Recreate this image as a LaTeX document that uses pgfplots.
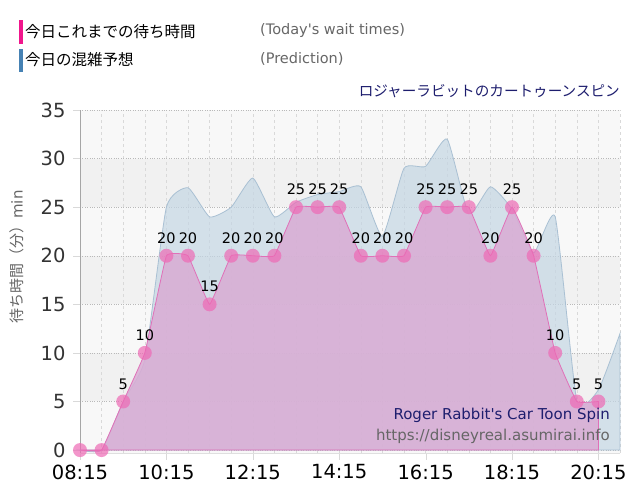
\documentclass[border=0pt]{standalone}
\usepackage{fontspec}
\setmainfont{DejaVu Sans}[Ligatures=TeXOff]
\newfontfamily\cjk{Noto Sans CJK JP}
\usepackage{pgfplots}
\usepackage{pgfplotstable}
\pgfplotsset{compat=1.18}
\definecolor{bgA}{HTML}{F8F8F8}
\definecolor{bgB}{HTML}{F1F1F1}
\definecolor{blueline}{HTML}{A9C0D3}
\definecolor{bluefill}{HTML}{C4D6E4}
\definecolor{pinkline}{HTML}{E070B8}
\definecolor{pinkfill}{HTML}{D9ACD4}
\definecolor{pinkmark}{HTML}{EE6AB5}
\definecolor{pinkbar}{HTML}{F0168C}
\definecolor{bluebar}{HTML}{4682B4}
\definecolor{navytxt}{HTML}{1E1E6E}
\definecolor{graytxt}{HTML}{666666}
\definecolor{ticktxt}{HTML}{333333}

\pgfplotstableread{
t v
8.25 0
8.75 0
9.25 5
9.75 9.3
10.25 25
10.75 27
11.25 24
11.75 25
12.25 28
12.75 24
13.25 25.5
13.75 26.3
14.25 26.6
14.75 27.1
15.25 22
15.75 29
16.25 29.2
16.75 32
17.25 24.3
17.75 27.1
18.25 24.8
18.75 20.3
19.25 24
19.75 5.1
20.25 6.2
20.75 12
}\predtable

\pgfplotstableread{
t v l
8.25 0 {}
8.75 0 {}
9.25 5 5
9.75 10 10
10.25 20 20
10.75 20 20
11.25 15 15
11.75 20 20
12.25 20 20
12.75 20 20
13.25 25 25
13.75 25 25
14.25 25 25
14.75 20 20
15.25 20 20
15.75 20 20
16.25 25 25
16.75 25 25
17.25 25 25
17.75 20 20
18.25 25 25
18.75 20 20
19.25 10 10
19.75 5 5
20.25 5 5
}\todaytable

\begin{document}
\begin{tikzpicture}
\begin{axis}[
  at={(0pt,0pt)}, anchor=south west,
  scale only axis, width=540pt, height=343pt,
  xmin=8.25, xmax=20.75, ymin=-0.3, ymax=35,
  set layers,
  axis background/.style={fill=bgA},
  axis lines*=left,
  x axis line style={draw=gray!25},
  y axis line style={draw=gray!70},
  xtick={8.25,10.25,12.25,14.25,16.25,18.25,20.25},
  xticklabels={08:15,10:15,12:15,14:15,16:15,18:15,20:15},
  minor xtick={8.75,9.25,9.75,10.75,11.25,11.75,12.75,13.25,13.75,14.75,15.25,15.75,16.75,17.25,17.75,18.75,19.25,19.75,20.75},
  ytick={0,5,10,15,20,25,30,35},
  xmajorgrids, xminorgrids, ymajorgrids,
  x grid style={dashed, draw=gray!30},
  y grid style={dotted, draw=gray!55},
  minor tick length=0pt,
  major tick length=7pt,
  tick align=outside,
  tick style={draw=gray!30},
  /pgf/number format/assume math mode=true,
  xticklabel style={font=\fontsize{19.5}{20}\selectfont, text=black, yshift=-1pt},
  yticklabel style={font=\fontsize{19.5}{20}\selectfont, text=ticktxt, xshift=-4pt},
  clip=false,
]
\addplot[fill=bgB, draw=none, on layer=axis background] coordinates {(8.25,5) (20.75,5) (20.75,10) (8.25,10)} -- cycle;
\addplot[fill=bgB, draw=none, on layer=axis background] coordinates {(8.25,15) (20.75,15) (20.75,20) (8.25,20)} -- cycle;
\addplot[fill=bgB, draw=none, on layer=axis background] coordinates {(8.25,25) (20.75,25) (20.75,30) (8.25,30)} -- cycle;
\addplot[draw=blueline, line width=0.8pt, fill=bluefill, fill opacity=0.7, smooth, tension=0.3] table[x=t,y=v] {\predtable} \closedcycle;
\addplot[draw=pinkline, line width=0.8pt, fill=pinkfill, fill opacity=0.85, smooth, tension=0.15] table[x=t,y=v] {\todaytable} \closedcycle;
\addplot[only marks, draw=none, fill=pinkmark, mark=*, mark size=7pt,
  mark options={fill=pinkmark, draw=none, draw opacity=0, fill opacity=0.7},
  point meta=explicit symbolic,
  nodes near coords,
  nodes near coords style={font=\fontsize{14.5}{15}\selectfont, text=black, anchor=south, inner sep=0pt, yshift=12pt, opacity=1}]
  table[x=t,y=v,meta=l] {\todaytable};
\end{axis}
% legend and titles
\fill[pinkbar] (-61pt,409pt) rectangle (-57pt,433pt);
\node[anchor=west, inner sep=0pt, font=\cjk\fontsize{15.5}{16}\selectfont] at (-55pt,421pt) {今日これまでの待ち時間};
\node[anchor=west, inner sep=0pt, font=\fontsize{14.5}{15}\selectfont, text=graytxt] at (180pt,422pt) {(Today's wait times)};
\fill[bluebar] (-61pt,381pt) rectangle (-57pt,404pt);
\node[anchor=west, inner sep=0pt, font=\cjk\fontsize{15.5}{16}\selectfont] at (-55pt,393pt) {今日の混雑予想};
\node[anchor=west, inner sep=0pt, font=\fontsize{14.5}{15}\selectfont, text=graytxt] at (180pt,394pt) {(Prediction)};
\node[anchor=east, inner sep=0pt, font=\cjk\fontsize{14.6}{15}\selectfont, text=navytxt] at (540pt,362pt) {ロジャーラビットのカートゥーンスピン};
\node[anchor=east, inner sep=0pt, font=\fontsize{15}{16}\selectfont, text=navytxt] at (530pt,38pt) {Roger Rabbit's Car Toon Spin};
\node[anchor=east, inner sep=0pt, font=\fontsize{15}{16}\selectfont, text=graytxt] at (530pt,17pt) {https://disneyreal.asumirai.info};
\node[rotate=90, inner sep=0pt, font=\fontsize{15}{16}\selectfont, text=graytxt] at (-63pt,196pt) {{\cjk 待ち時間（分）}min};
\path[use as bounding box] (-80pt,-47pt) rectangle (560pt,453pt);
\end{tikzpicture}
\end{document}
